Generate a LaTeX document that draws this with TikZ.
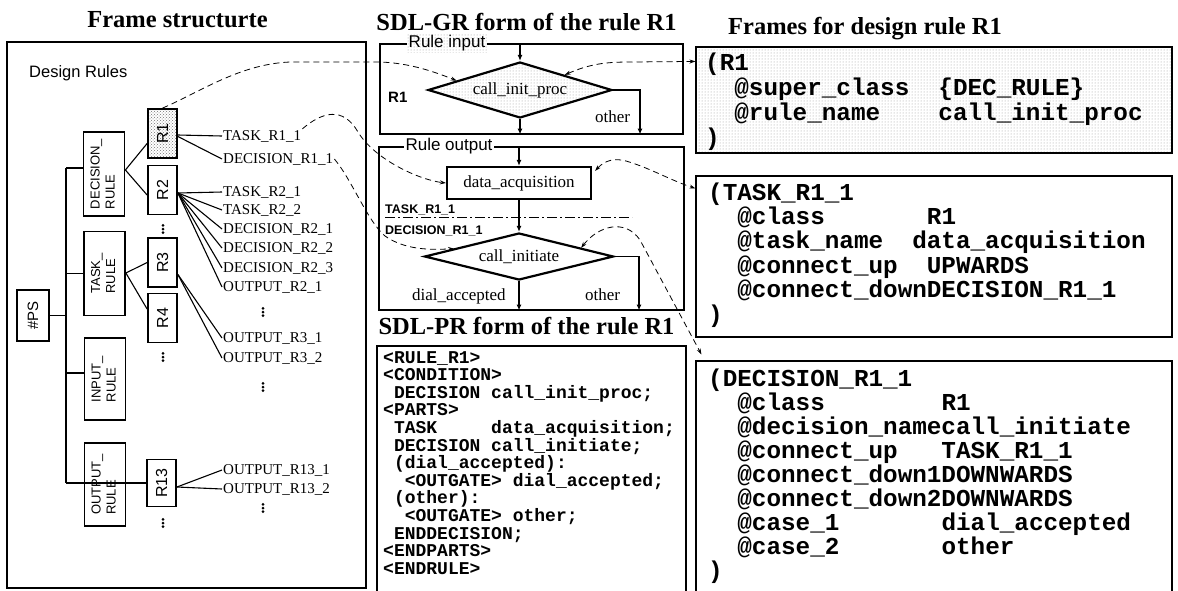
\documentclass[tikz,border=0pt]{standalone}
\usepackage{fontspec}
\setmainfont{Liberation Serif}
\setsansfont{Liberation Sans}
\setmonofont{Liberation Mono}
\usetikzlibrary{arrows.meta,shapes.geometric,patterns,calc}

\tikzset{
  heading/.style={font=\fontsize{24.5}{26}\selectfont\bfseries, inner sep=0pt, anchor=base},
  panel/.style={draw, line width=1.1pt, inner sep=0pt},
  dotfill/.style={preaction={fill=white}, pattern=dots, pattern color=black!40},
  densedots/.style={preaction={fill=white}, pattern=crosshatch dots, pattern color=black!55},
  rulebox/.style={draw, line width=1.8pt, minimum width=41pt, minimum height=84pt, inner sep=0pt,
    font=\sffamily\fontsize{13}{15}\selectfont},
  rbox/.style={draw, line width=1.8pt, minimum width=29pt, minimum height=49pt, inner sep=0pt,
    font=\sffamily\fontsize{16}{16}\selectfont},
  leaf/.style={anchor=west, inner sep=1pt, font=\fontsize{15}{15}\selectfont},
  treeline/.style={line width=1.1pt},
  flow/.style={line width=1.8pt, -{Latex[length=6pt,width=5pt]}},
  sdl/.style={font=\fontsize{17}{17}\selectfont, inner sep=0pt},
  sdllbl/.style={font=\sffamily\bfseries\fontsize{12.5}{13}\selectfont, inner sep=0pt, anchor=base west},
  link/.style={dash pattern=on 6pt off 4pt, line width=0.8pt},
  linkto/.style={link, -{Stealth[length=6pt,width=4pt]}},
  linkboth/.style={link, {Stealth[length=6pt,width=4pt]}-{Stealth[length=6pt,width=4pt]}},
  frametext/.style={font=\ttfamily\bfseries\fontsize{24.3}{24}\selectfont, anchor=base west, inner sep=0pt},
  prtext/.style={font=\ttfamily\bfseries\fontsize{18}{18}\selectfont, anchor=base west, inner sep=0pt},
}

% three stacked dots marking omitted entries
\newcommand\stackdots[2]{\foreach \dy in {-3.6,0,3.6}{\fill (#1,#2+\dy) circle (1.5pt);}}

\begin{document}
\begin{tikzpicture}[x=1pt,y=-1pt]
\useasboundingbox (0,0) rectangle (1178,590);
\clip (0,0) rectangle (1178,590);
\fill[white] (0,0) rectangle (1178,590);

% ---------- headings ----------
\node[heading] (h1) at (177.5,27) {Frame structurte};
\node[heading] (h2) at (526.5,30) {SDL-GR form of the rule R1};
\node[heading] (h3) at (865,34) {Frames for design rule R1};
\node[heading] (h4) at (526.5,334) {SDL-PR form of the rule R1};

% ---------- frame structure ----------
\node[panel, minimum width=359pt, minimum height=546pt] (lp) at (186.5,315) {};
\node[anchor=base west, inner sep=0pt, font=\sffamily\fontsize{16.5}{17}\selectfont] (dr) at (29,77) {Design Rules};

\node[rulebox, minimum width=32pt, minimum height=51pt, font=\sffamily\fontsize{15}{15}\selectfont] (ps) at (33,315.5) {\rotatebox{90}{\#PS}};
\node[rulebox] (dec) at (104,174) {\rotatebox{90}{\begin{tabular}{@{}l@{}}DECISION\_\\RULE\end{tabular}}};
\node[rulebox] (task) at (104.5,273.5) {\rotatebox{90}{\begin{tabular}{@{}l@{}}TASK\_\\RULE\end{tabular}}};
\node[rulebox, minimum height=82pt] (inp) at (105,379) {\rotatebox{90}{\begin{tabular}{@{}l@{}}INPUT\_\\RULE\end{tabular}}};
\node[rulebox, minimum height=83pt] (outp) at (105,484.5) {\rotatebox{90}{\begin{tabular}{@{}l@{}}OUTPUT\_\\RULE\end{tabular}}};

\node[rbox, densedots] (r1) at (162.5,133.5) {\rotatebox{90}{R1}};
\node[rbox] (r2) at (162.5,190) {\rotatebox{90}{R2}};
\node[rbox] (r3) at (162.5,262.5) {\rotatebox{90}{R3}};
\node[rbox] (r4) at (162.5,318) {\rotatebox{90}{R4}};
\node[rbox, minimum height=47pt] (r13) at (161.5,483) {\rotatebox{90}{R13}};

% trunk from #PS to the rule classes
\coordinate (ttop) at (66,168);
\coordinate (tbot) at (66,483);
\coordinate (tin) at (66,373);
\draw[treeline] (ttop) -- (tbot);
\draw[treeline] (ttop) -- (ttop -| dec.west);
\draw[treeline] (task.west) -- (task.west -| ttop);
\draw[treeline] (ps.east) -- (ps.east -| ttop);
\draw[treeline] (tin) -- (tin -| inp.west);
\draw[treeline] (tbot) -- (r13.west);

% rule classes to rules
\draw[treeline] ($(dec.east)+(0,-4)$) -- ($(r1.west)+(0,10)$);
\draw[treeline] ($(dec.east)+(0,-4)$) -- ($(r2.west)+(0,5)$);
\draw[treeline] ($(task.east)+(0,-0.5)$) -- (r3.west);
\draw[treeline] ($(task.east)+(0,-0.5)$) -- ($(r4.west)+(0,-9)$);

% rule parts
\node[leaf] (t11) at (222,136) {TASK\_R1\_1};
\node[leaf] (d11) at (222,159) {DECISION\_R1\_1};
\node[leaf] (t21) at (222,192) {TASK\_R2\_1};
\node[leaf] (t22) at (222,210) {TASK\_R2\_2};
\node[leaf] (d21) at (222,229) {DECISION\_R2\_1};
\node[leaf] (d22) at (222,248) {DECISION\_R2\_2};
\node[leaf] (d23) at (222,268) {DECISION\_R2\_3};
\node[leaf] (o21) at (222,287) {OUTPUT\_R2\_1};
\node[leaf] (o31) at (222,338) {OUTPUT\_R3\_1};
\node[leaf] (o32) at (222,358) {OUTPUT\_R3\_2};
\node[leaf] (o131) at (222,470) {OUTPUT\_R13\_1};
\node[leaf] (o132) at (222,489) {OUTPUT\_R13\_2};

\draw[treeline] ($(r1.east)+(0,1.5)$) -- (t11.west);
\draw[treeline] ($(r1.east)+(0,3)$) -- (d11.west);
\foreach \n in {t21,t22,d21,d22,d23,o21}
  \draw[treeline] ($(r2.east)+(0,3)$) -- (\n.west);
\foreach \n in {o31,o32}
  \draw[treeline] ($(r3.east)+(0,12)$) -- (\n.west);
\foreach \n in {o131,o132}
  \draw[treeline] ($(r13.east)+(0,4)$) -- (\n.west);

\stackdots{163}{229}
\stackdots{163}{357}
\stackdots{163}{523}
\stackdots{263}{312}
\stackdots{263}{387}
\stackdots{263}{508}

% ---------- SDL-GR ----------
\node[panel, minimum width=303pt, minimum height=90pt] (ribox) at (531.5,89) {};
\node[panel, minimum width=305pt, minimum height=163pt] (robox) at (531.5,228.5) {};
\node[dotfill, inner sep=2pt, font=\sffamily\fontsize{17}{17}\selectfont] (rilbl) at (447,43) {Rule input};
\node[fill=white, inner sep=2pt, font=\sffamily\fontsize{17}{17}\selectfont] (rolbl) at (449,146) {Rule output};

\node[sdllbl, font=\sffamily\bfseries\fontsize{15}{15}\selectfont] (rname) at (388,102) {R1};
\node[draw, diamond, dotfill, line width=2.2pt, aspect=3.3, minimum width=184pt, minimum height=56pt,
      inner sep=0pt, sdl] (cip) at (520,90) {call\_init\_proc};
\node[sdl, anchor=base west] (oth1) at (595,122) {other};

\draw[flow] (ribox.north -| cip.north) -- (cip.north);
\draw[flow] (cip.south) -- (cip.south |- ribox.south);
\draw[flow] (cip.east) -| ($(ribox.south)+(108.5,0)$);

\node[draw, line width=2.2pt, minimum width=144pt, minimum height=32pt, inner sep=0pt, sdl] (dat) at (519,183) {data\_acquisition};
\node[draw, diamond, line width=2.2pt, aspect=4, minimum width=189pt, minimum height=47pt,
      inner sep=0pt, sdl] (ci) at (519,256.5) {call\_initiate};
\node[sdllbl] (tlab) at (385,213) {TASK\_R1\_1};
\node[sdllbl] (dlab) at (385,234) {DECISION\_R1\_1};
\draw[line width=1pt, dash pattern=on 10pt off 3pt on 2pt off 3pt] (tlab.south west |- 0,217) -- (632,217);

\draw[flow] (robox.north -| dat.north) -- (dat.north);
\draw[flow] (dat.south) -- (ci.north);
\draw[flow] (ci.south) -- (ci.south |- robox.south);
\draw[flow] (ci.east) -| ($(robox.south)+(107.5,0)$);
\node[sdl, anchor=base west] (dacc) at (412,300) {dial\_accepted};
\node[sdl, anchor=base west] (oth2) at (585,300) {other};

% ---------- SDL-PR ----------
\node[panel, minimum width=309pt, minimum height=260pt] (prbox) at (531.5,476) {};
\foreach \t [count=\k from 0] in {
  {<RULE\_R1>},
  {<CONDITION>},
  {~DECISION~call\_init\_proc;},
  {<PARTS>},
  {~TASK~~~~~data\_acquisition;},
  {~DECISION~call\_initiate;},
  {~(dial\_accepted):},
  {~~<OUTGATE>~dial\_accepted;},
  {~(other):},
  {~~<OUTGATE>~other;},
  {~ENDDECISION;},
  {<ENDPARTS>},
  {<ENDRULE>}}
  \node[prtext] (pr\k) at (383,363+17.6*\k) {\t};

% ---------- frames ----------
\node[panel, dotfill, minimum width=476pt, minimum height=106pt] (r1f) at (934,100) {};
\node[panel, minimum width=476pt, minimum height=161pt] (tf) at (934,256.5) {};
\node[panel, minimum width=476pt, minimum height=250pt] (df) at (934,486) {};

\foreach \t [count=\k from 0] in {
  {(R1},
  {~~@super\_class~~\{DEC\_RULE\}},
  {~~@rule\_name~~~~call\_init\_proc},
  {)}}
  \node[frametext] (fa\k) at (705,70+25*\k) {\t};

\foreach \t [count=\k from 0] in {
  {(TASK\_R1\_1},
  {~~@class~~~~~~~R1},
  {~~@task\_name~~data\_acquisition},
  {~~@connect\_up~~UPWARDS},
  {~~@connect\_downDECISION\_R1\_1},
  {)}}
  \node[frametext] (fb\k) at (708,200+24.4*\k) {\t};

\foreach \t [count=\k from 0] in {
  {(DECISION\_R1\_1},
  {~~@class~~~~~~~~R1},
  {~~@decision\_namecall\_initiate},
  {~~@connect\_up~~~TASK\_R1\_1},
  {~~@connect\_down1DOWNWARDS},
  {~~@connect\_down2DOWNWARDS},
  {~~@case\_1~~~~~~~dial\_accepted},
  {~~@case\_2~~~~~~~other},
  {)}}
  \node[frametext] (fc\k) at (708,386+24*\k) {\t};

% ---------- correspondence links ----------
\coordinate (cipnw) at ($(cip.west)!0.32!(cip.north)$);
\coordinate (cipne) at ($(cip.north)!0.48!(cip.east)$);
\coordinate (r1fin) at ($(r1f.north west)+(0,15)$);
\coordinate (datne) at ($(dat.north east)+(3,5)$);
\coordinate (tfin) at ($(tf.north west)+(0,13)$);
\coordinate (cinw) at ($(ci.west)!0.32!(ci.north)$);
\coordinate (cine) at ($(ci.north)!0.65!(ci.east)$);
\coordinate (dfin) at ($(df.north west)+(6,-6)$);

\draw[linkto] (r1.north) .. controls (200,92) and (240,64) .. (290,62)
  -- (380,62) .. controls (410,63) and (435,72) .. (cipnw);
\draw[linkboth] (cipne) .. controls (590,64) and (605,62) .. (630,62) -- (r1fin);
\draw[linkto] (t11.north east) .. controls (322,112) and (343,106) .. (358,132)
  .. controls (375,160) and (420,180) .. (dat.west);
\draw[linkboth] (datne) .. controls (605,160) and (615,158) .. (626,161)
  .. controls (650,168) and (670,180) .. (tfin);
\draw[linkto] (d11.east) .. controls (352,180) and (368,222) .. (385,236)
  .. controls (405,250) and (430,250) .. (cinw);
\draw[linkboth] (cine) .. controls (598,226) and (625,218) .. (640,240) -- (dfin);
\end{tikzpicture}
\end{document}
